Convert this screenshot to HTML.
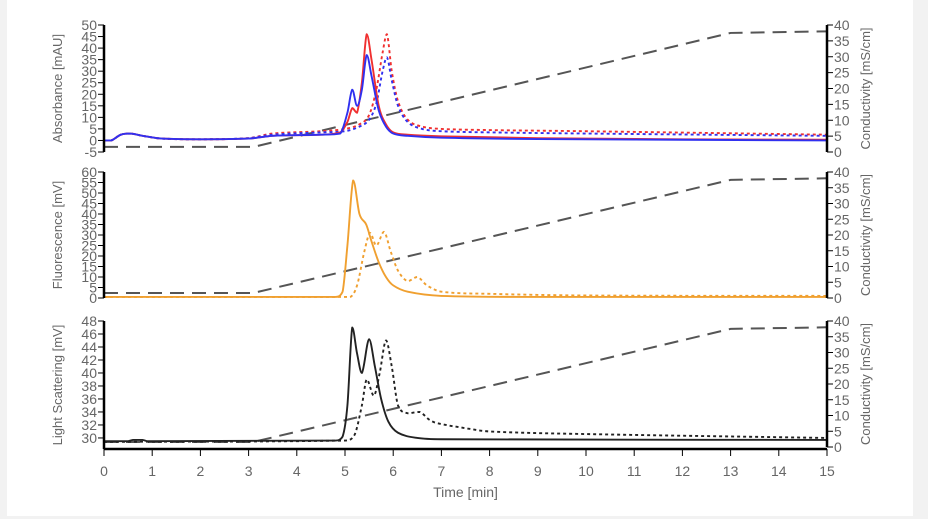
<!DOCTYPE html>
<html><head><meta charset="utf-8"><style>
html,body{margin:0;padding:0;background:#f2f2f2;}
#card{position:absolute;left:7px;top:0;width:906px;height:516px;background:#fff;}
svg{position:absolute;left:0;top:0;}
text{font-family:"Liberation Sans",sans-serif;fill:#666;}
</style></head><body>
<div id="card"></div>
<svg id="chart" width="928" height="519"></svg>
<script>
// Data
const condT=[0,3.1,13,15];
const condV=[1.6,1.6,37.5,38];
const absRedT=[0,0.15,0.35,0.55,0.8,1.2,2,3,3.5,4.5,4.9,5.05,5.15,5.25,5.35,5.45,5.55,5.7,5.85,6,6.3,7,9,12,15];
const absRedV=[0,0,2.5,3,2,0.8,0.5,0.8,2,2.5,3.5,8,14,12,25,46,35,15,7,3.5,2.5,1.8,1,0.5,0.3];
const absBlueT=[0,0.15,0.35,0.55,0.8,1.2,2,3,3.5,4.5,4.9,5.05,5.15,5.25,5.35,5.45,5.55,5.7,5.85,6,6.3,7,9,12,15];
const absBlueV=[0,0,2.5,3,2,0.8,0.5,0.8,2,2.5,3,12,22,15,22,37,28,13,6,3,2,1.2,0.6,0.3,0];
const absRedDotT=[0,0.15,0.35,0.55,0.8,1.2,2,3,3.5,4.5,5,5.3,5.5,5.65,5.78,5.87,5.97,6.1,6.3,6.6,7,8,10,15];
const absRedDotV=[0,0,2.5,3,2,0.8,0.5,1,3,4,5,7,11,22,38,46,30,17,9,6,5,4.5,4,2.5];
const absBlueDotT=[0,0.15,0.35,0.55,0.8,1.2,2,3,3.5,4.5,5,5.3,5.5,5.65,5.78,5.87,5.97,6.1,6.3,6.6,7,8,10,15];
const absBlueDotV=[0,0,2.5,3,2,0.8,0.5,1,2.5,3.5,4,6,9,16,30,36,26,15,8,5,4,3.5,3,2];
const fluT=[0,4.8,4.95,5.05,5.17,5.3,5.44,5.55,5.7,5.85,6,6.3,7,9,15];
const fluV=[0.5,0.5,3,25,56,40,35,27,17,10,6,3,1,0.5,0.5];
const fluDotT=[0,5.1,5.25,5.4,5.52,5.65,5.81,5.95,6.1,6.3,6.5,6.7,7,8,10,15];
const fluDotV=[0.5,0.5,6,22,31,25,31.5,22,13,8,10,6,3,2,1.2,1];
const lsT=[0,0.5,0.6,0.8,0.9,4.8,4.95,5.05,5.15,5.25,5.35,5.5,5.62,5.75,5.9,6.1,6.5,7,15];
const lsV=[29.5,29.5,29.7,29.7,29.5,29.6,30.2,35,47,43,40,45.2,41,36,32.5,30.8,30,29.8,29.7];
const lsDotT=[0,5,5.2,5.35,5.45,5.6,5.72,5.85,5.97,6.1,6.3,6.55,6.75,6.9,7.5,8,10,15];
const lsDotV=[29.4,29.6,30.5,35,39,36.5,40,45,41,35,33.8,34,32.8,32.3,31.5,31,30.6,30];
const xTicks=[0,1,2,3,4,5,6,7,8,9,10,11,12,13,14,15];

const NS="http://www.w3.org/2000/svg";
const svg=document.getElementById('chart');
const X0=104,X1=827;
const xs=t=>X0+(X1-X0)*t/15;
function el(tag,attrs,parent){const e=document.createElementNS(NS,tag);for(const k in attrs)e.setAttribute(k,attrs[k]);(parent||svg).appendChild(e);return e;}
function clamp(v,a,b){const lo=Math.min(a,b),hi=Math.max(a,b);return Math.max(lo,Math.min(hi,v));}
function smooth(pts){
  let d='M'+pts[0][0]+','+pts[0][1];
  const k=0.18;
  for(let i=0;i<pts.length-1;i++){
    const p0=pts[Math.max(0,i-1)],p1=pts[i],p2=pts[i+1],p3=pts[Math.min(pts.length-1,i+2)];
    const dx=p2[0]-p1[0];
    const c1x=p1[0]+dx/3,c2x=p2[0]-dx/3;
    const s1=(p2[1]-p0[1])/Math.max(1e-6,p2[0]-p0[0]);
    const s2=(p3[1]-p1[1])/Math.max(1e-6,p3[0]-p1[0]);
    const c1y=clamp(p1[1]+s1*dx/3,p1[1],p2[1]);
    const c2y=clamp(p2[1]-s2*dx/3,p1[1],p2[1]);
    d+=` C${c1x},${c1y} ${c2x},${c2y} ${p2[0]},${p2[1]}`;
  }
  return d;
}
const panels=[
 {name:'absorbance',top:25,bot:152,lmin:-5,lmax:50,step:5,title:'Absorbance [mAU]',
  series:[[absRedDotT,absRedDotV,'#f03030','3 3'],[absBlueDotT,absBlueDotV,'#3030f0','3 3'],[absRedT,absRedV,'#f03030',null],[absBlueT,absBlueV,'#3030f0',null]]},
 {name:'fluorescence',top:172,bot:298,lmin:0,lmax:60,step:5,title:'Fluorescence [mV]',
  series:[[fluDotT,fluDotV,'#f0a030','3 3'],[fluT,fluV,'#f0a030',null]]},
 {name:'light-scattering',top:321,bot:449,lmin:28.3,lmax:48,step:2,tstart:30,title:'Light Scattering [mV]',
  series:[[lsDotT,lsDotV,'#222','3 3'],[lsT,lsV,'#222',null]]}
];
panels.forEach((p,pi)=>{
  const g=el('g',{});
  
  
  const yl=v=>p.bot-(v-p.lmin)/(p.lmax-p.lmin)*(p.bot-p.top);
  const rb=pi==2?447:p.bot;
  const yr=v=>rb-v/40*(rb-p.top);
  const cp=el('polyline',{points:condT.map((t,i)=>xs(t)+','+yr(condV[i])).join(' '),fill:'none',stroke:'#555','stroke-width':2,'stroke-dasharray':'14 8'},g);
  
  
  p.series.forEach((s,si)=>{
    const pts=s[0].map((t,i)=>[xs(t),yl(s[1][i])]);
    const a={d:smooth(pts),fill:'none',stroke:s[2],'stroke-width':1.9,'stroke-linejoin':'round'};
    if(s[3])a['stroke-dasharray']=s[3];
    const l=el('path',a,g);
    
    
  });
  el('line',{x1:X0,x2:X0,y1:p.top,y2:p.bot,stroke:'#000','stroke-width':2.5},g);
  for(let v=(p.tstart!==undefined?p.tstart:p.lmin);v<=p.lmax+1e-6;v+=p.step){
    const y=yl(v);
    el('line',{x1:X0-6,x2:X0,y1:y,y2:y,stroke:'#000','stroke-width':1},g);
    const t=el('text',{x:X0-7,y:y+5,'text-anchor':'end','font-size':14},g);t.textContent=v;
    
    
  }
  const lt=el('text',{x:0,y:0,'font-size':13,'text-anchor':'middle',transform:`translate(62,${(p.top+p.bot)/2}) rotate(-90)`},g);
  lt.textContent=p.title;
  
  
  el('line',{x1:X1,x2:X1,y1:p.top,y2:rb,stroke:'#000','stroke-width':2.5},g);
  for(let v=0;v<=40;v+=5){
    const y=yr(v);
    el('line',{x1:X1,x2:X1+6,y1:y,y2:y,stroke:'#000','stroke-width':1},g);
    const t=el('text',{x:X1+7,y:y+5,'font-size':14},g);t.textContent=v;
    
    
  }
  const rt=el('text',{x:0,y:0,'font-size':13,'text-anchor':'middle',transform:`translate(870,${(p.top+rb)/2}) rotate(-90)`},g);
  rt.textContent='Conductivity [mS/cm]';
  
  
});
const xa=el('line',{x1:X0,x2:X1,y1:449,y2:449,stroke:'#000','stroke-width':2.5});


xTicks.forEach(t=>{
  el('line',{x1:xs(t),x2:xs(t),y1:449,y2:456,stroke:'#000','stroke-width':1});
  const tx=el('text',{x:xs(t),y:476,'text-anchor':'middle','font-size':14});
  tx.textContent=t;
  
  
});
const xt=el('text',{x:(X0+X1)/2,y:497,'text-anchor':'middle','font-size':14});
xt.textContent='Time [min]';


</script>
</body></html>
